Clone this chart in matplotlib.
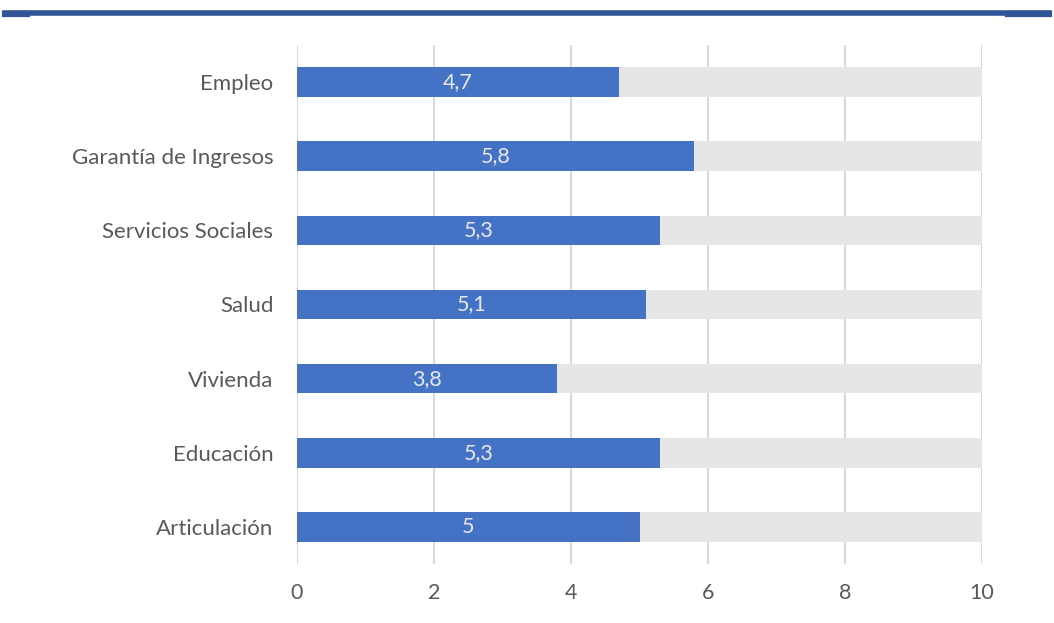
import matplotlib
matplotlib.use("Agg")
import matplotlib.pyplot as plt
from matplotlib.lines import Line2D

categories = ["Empleo", "Garantía de Ingresos", "Servicios Sociales", "Salud",
              "Vivienda", "Educación", "Articulación"]
scores = [4.7, 5.8, 5.3, 5.1, 3.8, 5.3, 5.0]
score_labels = ["4,7", "5,8", "5,3", "5,1", "3,8", "5,3", "5"]
max_score = 10

BLUE = "#4472C4"
TRACK = "#E6E6E6"
GRID = "#D9D9D9"
TEXT = "#595959"
RULE = "#2F5597"

plt.rcParams["font.family"] = ["Lato", "DejaVu Sans"]

fig = plt.figure(figsize=(10.54, 6.23), dpi=100)
ax = fig.add_axes([0.2818, 0.0947, 0.65, 0.8331])

ypos = list(range(len(categories)))[::-1]
ax.barh(ypos, [max_score] * len(categories), height=0.4, color=TRACK, zorder=2)
ax.barh(ypos, scores, height=0.4, color=BLUE, zorder=3)
for y, v, lab in zip(ypos, scores, score_labels):
    ax.text(v / 2, y, lab, ha="center", va="center", color="#E8E8E8",
            fontsize=15.5, zorder=4)

ax.set_xlim(0, 10)
ax.set_ylim(-0.5, len(categories) - 0.5)
ax.set_xticks(range(0, 11, 2))
ax.set_yticks(ypos)
ax.set_yticklabels(categories)
ax.tick_params(axis="both", length=0, labelsize=15.5, labelcolor=TEXT)
ax.tick_params(axis="y", labelsize=16, pad=17)
ax.tick_params(axis="x", pad=14)
ax.grid(axis="x", color=GRID, linewidth=1.5, zorder=0)
for s in ax.spines.values():
    s.set_visible(False)

# header rule across the top, slightly heavier at both ends
W, H = 1054, 623
fig.add_artist(Line2D([5 / W, 1049 / W], [1 - 12.5 / H] * 2,
                      color=RULE, linewidth=4, transform=fig.transFigure))
for x0, x1 in [(5, 27), (1008, 1049)]:
    fig.add_artist(Line2D([x0 / W, x1 / W], [1 - 13.5 / H] * 2,
                          color=RULE, linewidth=4.5, transform=fig.transFigure))

fig.savefig("out.png", dpi=100)
